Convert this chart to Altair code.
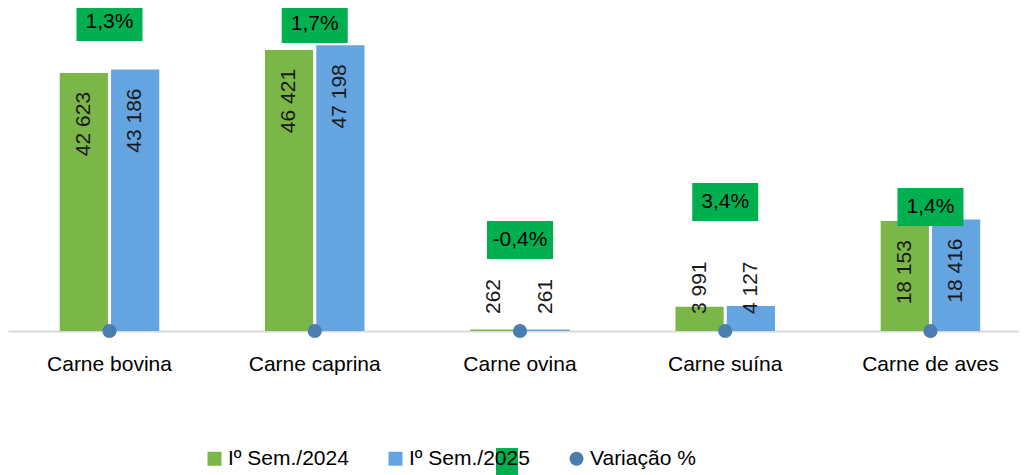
import altair as alt
import pandas as pd

# ---- data ----
categories = ["Carne bovina", "Carne caprina", "Carne ovina", "Carne suína", "Carne de aves"]
series = ["Iº Sem./2024", "Iº Sem./2025", "Variação %"]
sem_2024 = [42623, 46421, 262, 3991, 18153]
sem_2025 = [43186, 47198, 261, 4127, 18416]
variacao = [1.3, 1.7, -0.4, 3.4, 1.4]
# height (in value units) where each percentage label box sits
label_height = [51032, 50702, 15029, 21305, 20479]

# ---- styling ----
GREEN = "#7AB648"
BLUE = "#64A5E1"
DOT = "#4A7EB0"
BOX = "#00B050"
FONT = "Liberation Sans"
FS = 21


def fmt_thousands(v):
    return f"{v:,}".replace(",", " ")


bars_rows = []
for c, a, b in zip(categories, sem_2024, sem_2025):
    bars_rows.append({"categoria": c, "serie": series[0], "valor": a, "label": fmt_thousands(a)})
    bars_rows.append({"categoria": c, "serie": series[1], "valor": b, "label": fmt_thousands(b)})
bars_df = pd.DataFrame(bars_rows)

var_df = pd.DataFrame({
    "categoria": categories,
    "serie": [series[2]] * len(categories),
    "variacao": variacao,
    "label": [f"{v:.1f}%".replace(".", ",") for v in variacao],
    "label_y": label_height,
})

x_enc = alt.X(
    "categoria:N",
    sort=categories,
    title=None,
    scale=alt.Scale(paddingInner=0.515, paddingOuter=0.2204, align=0.5716),
    axis=alt.Axis(
        labelAngle=0, ticks=False, domainColor="#D9D9D9", domainWidth=2,
        labelFont=FONT, labelFontSize=FS, labelColor="#000000", labelPadding=22,
        labelLimit=300, grid=False,
    ),
)
y_scale = alt.Scale(domain=[0, 53345], nice=False, zero=True)
xoff = alt.XOffset("serie:N", sort=series[:2], scale=alt.Scale(paddingInner=0.06, paddingOuter=0))
color_enc = alt.Color(
    "serie:N",
    scale=alt.Scale(domain=series, range=[GREEN, BLUE, DOT]),
    legend=alt.Legend(
        title=None, orient="none", legendX=196, legendY=440, direction="horizontal",
        labelFont=FONT, labelFontSize=FS, labelColor="#000000", symbolSize=196,
        symbolStrokeWidth=0, labelOffset=3, columnPadding=36, gridAlign="all",
        labelLimit=300, padding=0,
    ),
)

bars = alt.Chart(bars_df).mark_bar().encode(
    x=x_enc,
    xOffset=xoff,
    y=alt.Y("valor:Q", scale=y_scale, axis=None),
    color=color_enc,
)

big_labels = alt.Chart(bars_df).transform_filter("datum.valor > 10000").mark_text(
    angle=270, align="right", baseline="middle", dx=-19, font=FONT, fontSize=FS, color="#1a1a1a"
).encode(
    x=alt.X("categoria:N", sort=categories),
    xOffset=alt.XOffset("serie:N", sort=series[:2]),
    y=alt.Y("valor:Q", axis=None),
    text="label:N",
)

small_labels = alt.Chart(bars_df).transform_filter("datum.valor <= 10000").mark_text(
    angle=270, align="left", baseline="middle", dx=17, font=FONT, fontSize=FS, color="#1a1a1a"
).encode(
    x=alt.X("categoria:N", sort=categories),
    xOffset=alt.XOffset("serie:N", sort=series[:2]),
    y=alt.Y(datum=0, axis=None),
    text="label:N",
)

boxes = alt.Chart(var_df).mark_rect(width=66, height=38, color=BOX).encode(
    x=alt.X("categoria:N", sort=categories),
    y=alt.Y("label_y:Q", axis=None),
)

box_text = alt.Chart(var_df).mark_text(
    font=FONT, fontSize=FS, color="#000000", baseline="middle", align="center"
).encode(
    x=alt.X("categoria:N", sort=categories),
    y=alt.Y("label_y:Q", axis=None),
    text="label:N",
)

points = alt.Chart(var_df).mark_point(filled=True, size=200, opacity=1).encode(
    x=alt.X("categoria:N", sort=categories),
    y=alt.Y("variacao:Q", axis=None),
    color=alt.Color("serie:N"),
    shape=alt.Shape(
        "serie:N",
        scale=alt.Scale(domain=series, range=["square", "square", "circle"]),
        legend=alt.Legend(title=None),
    ),
)

# stray label box overlapping the legend in the reference
stray = alt.Chart(var_df.head(1)).mark_rect(color=BOX).encode(
    x=alt.value(488), x2=alt.value(510), y=alt.value(440), y2=alt.value(480)
)

chart = alt.layer(bars, big_labels, small_labels, points, boxes, box_text, stray).properties(
    width=1011,
    height=323,
    background="white",
    autosize=alt.AutoSizeParams(type="none"),
    padding={"left": 0, "top": 0, "right": 0, "bottom": 150},
).configure_view(stroke=None).configure_axisY(disable=True)

chart.save("out.html", embed_options={"renderer": "svg", "actions": False})
